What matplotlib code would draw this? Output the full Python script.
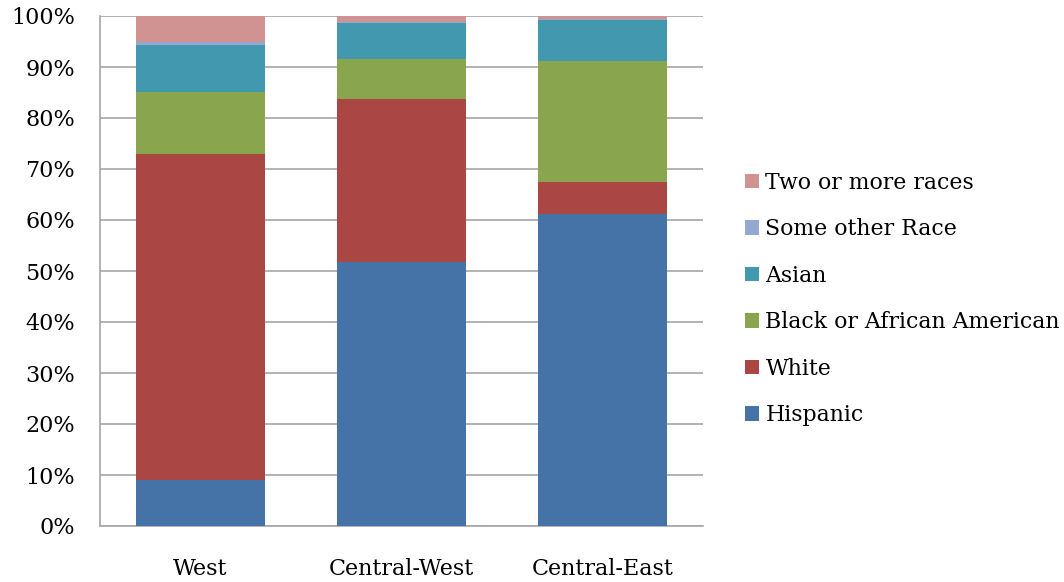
import numpy as np
import matplotlib.pyplot as plt
from matplotlib.ticker import PercentFormatter

regions = ['West', 'Central-West', 'Central-East']

# share of each group per region, in percent (bottom to top)
hispanic = [9.1, 51.8, 61.2]
white = [63.8, 31.9, 6.3]
black = [12.2, 7.8, 23.6]
asian = [9.3, 7.1, 8.2]
other_race = [0.6, 0.3, 0.2]
two_or_more = [5.0, 1.1, 0.5]

series = [
    ('Hispanic', hispanic, '#4572A7'),
    ('White', white, '#AA4643'),
    ('Black or African American', black, '#89A54E'),
    ('Asian', asian, '#4198AF'),
    ('Some other Race', other_race, '#93A9CF'),
    ('Two or more races', two_or_more, '#D19392'),
]

plt.rcParams['font.family'] = ['DejaVu Serif']

fig = plt.figure(figsize=(10.64, 5.82), dpi=100)
ax = fig.add_axes([100 / 1064, 1 - 526 / 582, 603 / 1064, 510 / 582])

x = np.arange(len(regions))
bottom = np.zeros(len(regions))
for name, vals, color in series:
    vals = np.array(vals)
    ax.bar(x, vals, 0.64, bottom=bottom, color=color, label=name, zorder=3)
    bottom += vals

ax.set_xlim(-0.5, 2.5)
ax.set_ylim(0, 100)
ax.set_yticks(np.arange(0, 101, 10))
ax.yaxis.set_major_formatter(PercentFormatter(decimals=0))
ax.set_xticks(x)
ax.set_xticklabels(regions)
ax.grid(axis='y', color='#A6A6A6', linewidth=1.2, zorder=0)

for side in ['top', 'right']:
    ax.spines[side].set_visible(False)
for side in ['left', 'bottom']:
    ax.spines[side].set_color('#A6A6A6')
    ax.spines[side].set_linewidth(1.2)

ax.tick_params(axis='y', labelsize=16, length=0, pad=18)
ax.tick_params(axis='x', labelsize=16, length=0, pad=23)

handles, labels = ax.get_legend_handles_labels()
leg = fig.legend(handles[::-1], labels[::-1], loc='center left',
                 bbox_to_anchor=(725 / 1064, 1 - 299 / 582), frameon=False,
                 fontsize=15.8, handlelength=0.64, handleheight=0.64,
                 handletextpad=0.3, labelspacing=1.12)

fig.savefig('out.png', dpi=100)
